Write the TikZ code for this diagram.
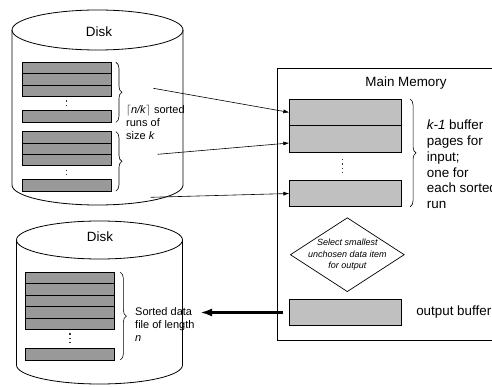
\documentclass[tikz,border=0pt]{standalone}
\usepackage{fontspec}
\setmainfont{Liberation Sans}
\usepackage{tikz}
\usetikzlibrary{arrows.meta,positioning,shapes.geometric,decorations.pathreplacing}
\definecolor{rowc}{HTML}{999999}
\definecolor{bufc}{HTML}{C0C0C0}
\tikzset{
  diskline/.style={draw=black, line width=0.8pt},
  diskrow/.style={rectangle, draw=black, fill=rowc, line width=0.8pt, outer sep=0pt,
    minimum width=88.7pt, minimum height=11.4pt, inner sep=0pt},
  bufrow/.style={rectangle, draw=black, fill=bufc, line width=0.8pt, outer sep=0pt,
    minimum width=111.7pt, minimum height=26.6pt, inner sep=0pt},
  membox/.style={rectangle, draw=black, line width=0.9pt, fill=white, inner sep=0pt},
  pickdiamond/.style={diamond, draw=black, line width=0.7pt, fill=white,
    minimum width=114pt, minimum height=74pt, inner sep=0pt},
  bigtext/.style={font=\fontsize{13.4}{15.8}\selectfont, inner sep=0pt, align=left},
  notetext/.style={font=\fontsize{11}{12.8}\selectfont, inner sep=0pt, align=left},
  picktext/.style={font=\fontsize{9}{11.5}\selectfont\itshape, inner sep=0pt, align=center},
  rowdots/.style={draw=black!80, line width=1.2pt, dash pattern=on 1.2pt off 3pt},
  runedge/.style={-{Latex[length=6pt,width=4pt]}, draw=black, line width=0.6pt},
  outedge/.style={-{Latex[length=12pt,width=8pt]}, draw=black, line width=2.7pt},
  runbrace/.style={decorate, decoration={brace, amplitude=6pt}, draw=black, line width=0.6pt},
}
\begin{document}
\begin{tikzpicture}[x=1pt, y=-1pt]
  \clip (0,0) rectangle (492,387);
  % disk with the sorted runs
  \draw[diskline, fill=white] (12,30) -- (12,185)
    arc[start angle=180, end angle=0, x radius=85.5, y radius=20] -- (183,30);
  \draw[diskline] (97.5,30) ellipse [x radius=85.5, y radius=20];
  \node[bigtext] (disktop) at (99,32) {Disk};
  \node[diskrow] (rowa1) at (66.6,68) {};
  \node[diskrow] (rowa2) at (66.6,79.4) {};
  \node[diskrow] (rowa3) at (66.6,90.8) {};
  \node[diskrow] (rowa4) at (66.6,116.6) {};
  \node[diskrow] (rowb1) at (66.6,137.4) {};
  \node[diskrow] (rowb2) at (66.6,148.8) {};
  \node[diskrow] (rowb3) at (66.6,160.2) {};
  \node[diskrow] (rowb4) at (66.6,185.3) {};
  \draw[rowdots] ([yshift=-4pt]rowa3.south) -- ([yshift=3pt]rowa4.north);
  \draw[rowdots] ([yshift=-4pt]rowb3.south) -- ([yshift=3pt]rowb4.north);
  \draw[runbrace] ([xshift=5pt]rowa1.north east) -- ([xshift=5pt]rowa4.south east);
  \draw[runbrace] ([xshift=5pt]rowb1.north east) -- ([xshift=5pt]rowb4.south east);
  \node[notetext, anchor=west] (runnote) at (126,122.5)
    {\(\lceil\)\textit{n/k}\(\rceil\) sorted\\runs of\\size \textit{k}};

  % disk with the output file
  \draw[diskline, fill=white] (16.5,240) -- (16.5,365)
    arc[start angle=180, end angle=0, x radius=83, y radius=19] -- (182.5,240);
  \draw[diskline] (99.5,240) ellipse [x radius=83, y radius=19];
  \node[bigtext] (diskbot) at (100,237) {Disk};
  \node[diskrow] (rowc1) at (70,278) {};
  \node[diskrow] (rowc2) at (70,289.4) {};
  \node[diskrow] (rowc3) at (70,300.8) {};
  \node[diskrow] (rowc4) at (70,312.2) {};
  \node[diskrow] (rowc5) at (70,323.6) {};
  \node[diskrow] (rowc6) at (70,354.2) {};
  \draw[rowdots] ([yshift=-4pt]rowc5.south) -- ([yshift=3pt]rowc6.north);
  \draw[runbrace] ([xshift=6pt]rowc1.north east) -- ([xshift=6pt]rowc6.south east);
  \node[notetext, anchor=west] (filenote) at (135,324.5)
    {Sorted data\\file of length\\\textit{n}};

  % main memory
  \node[membox, minimum width=260pt, minimum height=272pt, anchor=north west] (mainmem) at (276.5,68) {};
  \node[bigtext] (memtitle) at (406,82.7) {Main Memory};
  \node[bufrow] (bufa) at (345.2,112.4) {};
  \node[bufrow] (bufb) at (345.2,139) {};
  \node[bufrow] (bufc) at (345.2,193.5) {};
  \draw[rowdots] ([xshift=-3pt,yshift=-7pt]bufb.south) -- ([xshift=-3pt,yshift=6pt]bufc.north);
  \draw[runbrace] ([xshift=9pt]bufa.north east) -- ([xshift=9pt]bufc.south east);
  \node[bigtext, anchor=west] (bufnote) at (426.7,164.5)
    {\textit{k-1} buffer\\pages for\\input;\\one for\\each sorted\\run};
  \node[pickdiamond] (pick) at (347.3,254.7) {};
  \node[picktext] (picklabel) at (pick.center)
    {Select smallest\\unchosen data item\\for output};
  \node[bufrow] (outbuf) at (345.2,312.5) {};
  \node[bigtext, anchor=west, right=15pt of outbuf] (outlabel) {output buffer};

  % runs into the buffers
  \coordinate (runa) at (153.3,88.3);
  \coordinate (runb) at (157.7,154.3);
  \coordinate (runc) at (150.7,197.3);
  \draw[runedge] (runa) -- (bufa.west);
  \draw[runedge] (runb) -- ([yshift=-4pt]bufb.west);
  \draw[runedge] (runc) -- (bufc.west);
  \coordinate (filein) at (200,312.5);
  \draw[outedge] ([xshift=-6pt]outbuf.west) -- (filein);
\end{tikzpicture}
\end{document}
